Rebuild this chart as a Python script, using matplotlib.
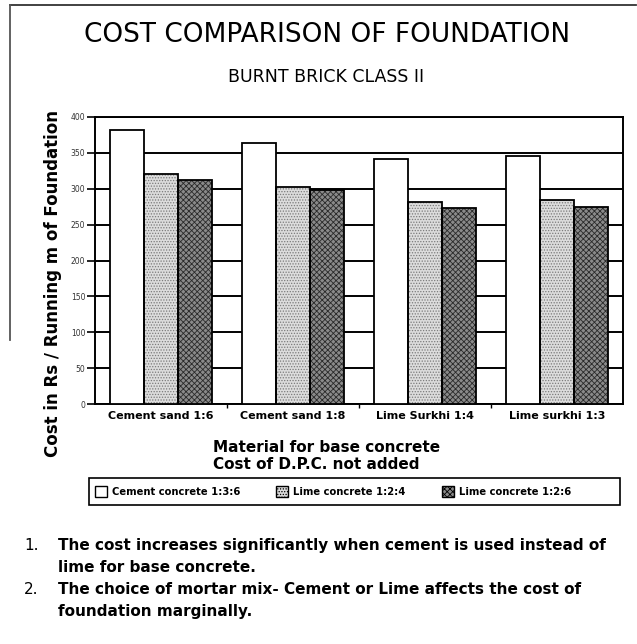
import matplotlib
matplotlib.use("Agg")
import matplotlib.pyplot as plt
from matplotlib.patches import Patch
from matplotlib.lines import Line2D
import numpy as np

plt.rcParams['font.family'] = ['DejaVu Sans']
plt.rcParams['hatch.linewidth'] = 0.6

categories = ["Cement sand 1:6", "Cement sand 1:8", "Lime Surkhi 1:4", "Lime surkhi 1:3"]
series_names = ["Cement concrete 1:3:6", "Lime concrete 1:2:4", "Lime concrete 1:2:6"]
cement_136 = [382, 364, 342, 346]
lime_124 = [320, 303, 281, 285]
lime_126 = [312, 298, 273, 275]
y_ticks = [0, 50, 100, 150, 200, 250, 300, 350, 400]

title = "COST COMPARISON OF FOUNDATION"
subtitle = "BURNT BRICK CLASS II"
ylabel = "Cost in Rs / Running m of Foundation"
xlabel = "Material for base concrete\nCost of D.P.C. not added"
notes = [
    ("1.", "The cost increases significantly when cement is used instead of\nlime for base concrete."),
    ("2.", "The choice of mortar mix- Cement or Lime affects the cost of\nfoundation marginally."),
]

W, H = 637, 644
fig = plt.figure(figsize=(W / 100, H / 100), dpi=100)

def fx(px):
    return px / W

def fy(py):
    return 1 - py / H

ax = fig.add_axes([fx(95), fy(404), fx(623) - fx(95), fy(117) - fy(404)])

styles = [
    dict(face="white", hatch=None, hcol="black"),
    dict(face="#dcdcdc", hatch="......", hcol="#7a7a7a"),
    dict(face="#8a8a8a", hatch="xxxxxx", hcol="#2a2a2a"),
]
series = [cement_136, lime_124, lime_126]
x = np.arange(len(categories))
bw = 0.26
for i, (vals, st) in enumerate(zip(series, styles)):
    pos = x + (i - 1) * bw
    ax.bar(pos, vals, bw, color=st["face"], edgecolor=st["hcol"], hatch=st["hatch"],
           linewidth=0, zorder=3)
    ax.bar(pos, vals, bw, fill=False, edgecolor="black", linewidth=1.3, zorder=4)

ax.set_xlim(-0.5, 3.5)
ax.set_ylim(0, 400)
ax.set_yticks(y_ticks)
ax.set_yticklabels([str(v) for v in y_ticks], fontsize=5.5, color="#333333")
ax.yaxis.grid(True, color="black", linewidth=1.4, zorder=0)
ax.set_axisbelow(True)
ax.tick_params(axis="y", direction="out", length=6, width=1.2, pad=1)
ax.set_xticks(x)
ax.set_xticklabels(categories, fontsize=8, fontweight="bold")
ax.tick_params(axis="x", length=0, pad=5)
ax.set_xticks([0.5, 1.5, 2.5], minor=True)
ax.tick_params(axis="x", which="minor", length=3, width=1)
for s in ax.spines.values():
    s.set_linewidth(1.4)

fig.text(fx(327), fy(35), title, ha="center", va="center", fontsize=19)
fig.text(fx(326), fy(77), subtitle, ha="center", va="center", fontsize=12.5)
fig.text(fx(53), fy(283), ylabel, ha="center", va="center", rotation=90,
         fontsize=12, fontweight="semibold")
fig.text(fx(213), fy(456), xlabel, ha="left", va="center", fontsize=11,
         linespacing=1.2, fontweight="semibold")

handles = []
for st, name in zip(styles, series_names):
    handles.append(Patch(facecolor=st["face"], edgecolor="black", hatch=st["hatch"],
                         linewidth=1, label=name))
leg = fig.legend(handles=handles, loc="center left",
                 bbox_to_anchor=(fx(95), fy(491.5)),
                 ncol=3, fontsize=7.2, frameon=False,
                 handlelength=1.2, handleheight=1.2,
                 handletextpad=0.5, borderaxespad=0, borderpad=0.0, columnspacing=3.6)
for t in leg.get_texts():
    t.set_fontweight("semibold")
# legend box spanning the plot width
fig.add_artist(plt.Rectangle((fx(89), fy(505)), fx(620) - fx(89), fy(478) - fy(505),
                             transform=fig.transFigure, fill=False, edgecolor="black",
                             linewidth=1.2))

# outer frame fragments of the scanned page
fig.add_artist(Line2D([fx(10), fx(636)], [fy(5), fy(5)], color="#333333", linewidth=1.3))
fig.add_artist(Line2D([fx(10), fx(10)], [fy(5), fy(340)], color="#555555", linewidth=1.3))

ys = [538, 582]
for (num, txt), yy in zip(notes, ys):
    fig.text(fx(24), fy(yy), num, ha="left", va="top", fontsize=11, linespacing=1.55)
    fig.text(fx(58), fy(yy), txt, ha="left", va="top", fontsize=11,
             linespacing=1.55, fontweight="semibold")

fig.savefig("out.png", dpi=100, facecolor="white")
